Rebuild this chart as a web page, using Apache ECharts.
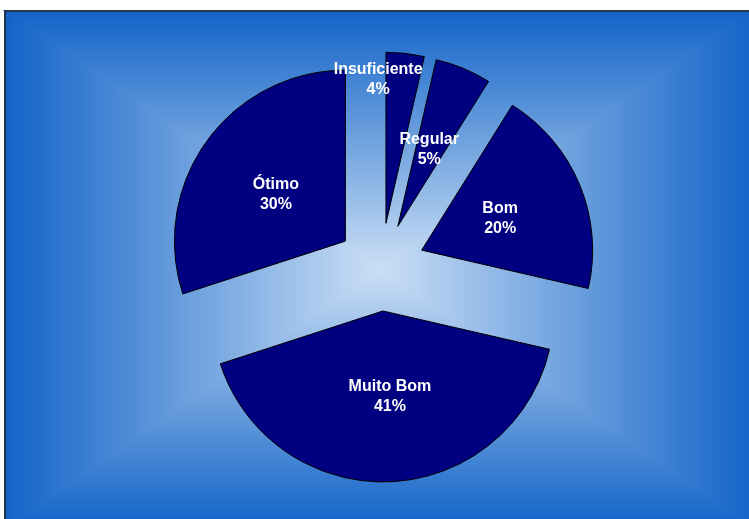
<!DOCTYPE html>
<html>
<head>
<meta charset="utf-8">
<script src="https://cdn.jsdelivr.net/npm/echarts@6/dist/echarts.min.js"></script>
<style>
html,body{margin:0;padding:0;background:#fff;}
#chart{width:749px;height:519px;}
</style>
</head>
<body>
<div id="chart"></div>
<script>
// Data (shares; labels show rounded percentages)
const categories = ['Insuficiente', 'Regular', 'Bom', 'Muito Bom', 'Ótimo'];
const values = [3.6, 5.3, 19.7, 41.4, 30.0];
// label nudges (px) to match the reference label placement
const labelNudge = [[-27, -58], [-14, 7], [-7, 22], [5, 0], [16, 13]];

const chart = echarts.init(document.getElementById('chart'), null, {renderer: 'canvas'});

// background frame (rectangular "from center" gradient)
const L = 5, T = 11, R = 755, B = 527, CX = 380, CY = 269;
const edge = '#1263c8', mid = '#cbdff5';
function lg(x0, y0, x1, y1) {
  return new echarts.graphic.LinearGradient(x0, y0, x1, y1, [
    {offset: 0, color: edge}, {offset: 1, color: mid}
  ]);
}
function tri(points, g) {
  return {type: 'polygon', shape: {points: points}, style: {fill: g, stroke: g, lineWidth: 1.5}};
}
const bg = [
  tri([[L, T], [R, T], [CX, CY]], lg(0, 0, 0, 1)),
  tri([[L, B], [R, B], [CX, CY]], lg(0, 1, 0, 0)),
  tri([[L, T], [L, B], [CX, CY]], lg(0, 0, 1, 0)),
  tri([[R, T], [R, B], [CX, CY]], lg(1, 0, 0, 0)),
  {type: 'rect', shape: {x: L, y: T, width: R - L, height: B - T}, style: {fill: 'none', stroke: '#222', lineWidth: 1.5}}
].map(e => Object.assign(e, {z: -10, silent: true}));

const labelStyle = {
  show: true,
  position: 'inside',
  formatter: '{b}\n{d}%',
  color: '#fff',
  fontFamily: '"Liberation Sans", Arial, sans-serif',
  fontWeight: 'bold',
  fontSize: 16,
  lineHeight: 20
};
const itemStyle = {color: '#000080', borderColor: '#000', borderWidth: 1};

chart.setOption({
  animation: false,
  backgroundColor: '#fff',
  graphic: bg,
  series: [{
    type: 'pie',
    center: [381, 267],
    radius: 171,
    startAngle: 90,
    clockwise: true,
    percentPrecision: 0,
    selectedMode: 'multiple',
    selectedOffset: 44,
    avoidLabelOverlap: false,
    itemStyle: itemStyle,
    label: labelStyle,
    labelLine: {show: false},
    emphasis: {disabled: true},
    select: {itemStyle: itemStyle, label: labelStyle},
    labelLayout: function (p) {
      const n = labelNudge[p.dataIndex];
      return {dx: n[0], dy: n[1]};
    },
    data: categories.map((c, i) => ({name: c, value: values[i], selected: true}))
  }]
});
</script>
</body>
</html>
